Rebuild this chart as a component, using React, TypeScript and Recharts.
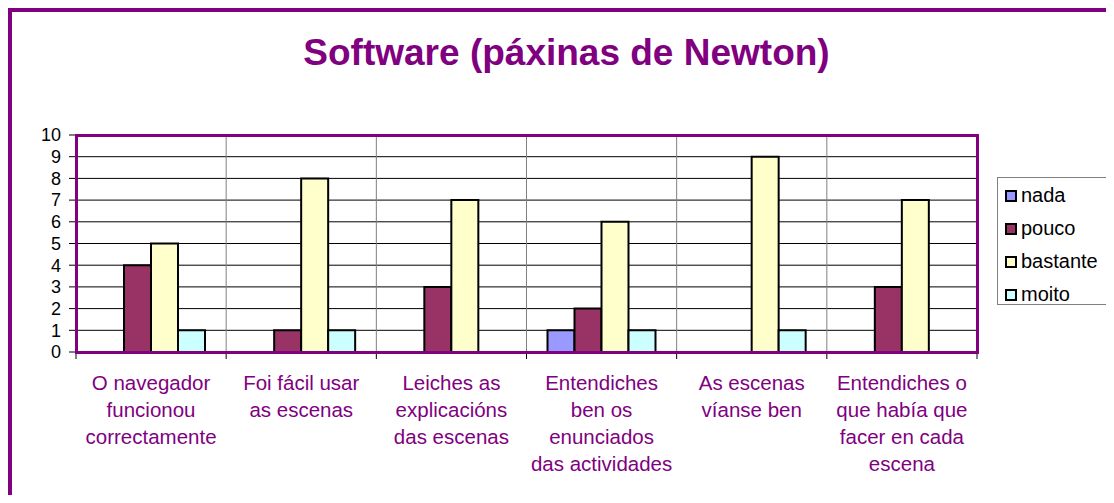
import React from 'react';
import { BarChart, Bar, XAxis, YAxis, CartesianGrid } from 'recharts';

const CATEGORIES = [
    'O navegador\nfuncionou\ncorrectamente',
    'Foi fácil usar\nas escenas',
    'Leiches as\nexplicacións\ndas escenas',
    'Entendiches\nben os\nenunciados\ndas actividades',
    'As escenas\nvíanse ben',
    'Entendiches o\nque había que\nfacer en cada\nescena',
];

const NADA = [0, 0, 0, 1, 0, 0];
const POUCO = [4, 1, 3, 2, 0, 3];
const BASTANTE = [5, 8, 7, 6, 9, 7];
const MOITO = [1, 1, 0, 1, 1, 0];

const Y_TICKS = [0, 1, 2, 3, 4, 5, 6, 7, 8, 9, 10];

const SERIES = [
    { key: 'nada', color: '#9999FF' },
    { key: 'pouco', color: '#993366' },
    { key: 'bastante', color: '#FFFFCC' },
    { key: 'moito', color: '#CCFFFF' },
];

const data = CATEGORIES.map((name, i) => ({
    name,
    nada: NADA[i],
    pouco: POUCO[i],
    bastante: BASTANTE[i],
    moito: MOITO[i],
}));

const W = 1114;
const H = 503;
const PURPLE = '#800080';
const FONT = '"Liberation Sans", Arial, Helvetica, sans-serif';
const MARGIN = { top: 135, right: 137, bottom: 0, left: 16 };
const Y_W = 60;
const X_H = 151;

const PLOT_LEFT = MARGIN.left + Y_W;
const PLOT_TOP = MARGIN.top;
const PLOT_W = W - PLOT_LEFT - MARGIN.right;
const PLOT_H = H - PLOT_TOP - MARGIN.bottom - X_H;

const CategoryTick = (props: any) => {
    const { x, y, payload, index } = props;
    const half = PLOT_W / CATEGORIES.length / 2;
    const lines = String(payload.value).split('\n');
    return (
        <g>
            <line x1={x - half} x2={x - half} y1={y} y2={y + 7} stroke="#000" />
            {index === CATEGORIES.length - 1 && (
                <line x1={x + half} x2={x + half} y1={y} y2={y + 7} stroke="#000" />
            )}
            <text textAnchor="middle" fill={PURPLE} fontSize={20.5} fontFamily={FONT}>
                {lines.map((l, i) => (
                    <tspan key={i} x={x} y={y + 38 + i * 27}>{l}</tspan>
                ))}
            </text>
        </g>
    );
};

const LegendBox = () => (
    <div style={{
        position: 'absolute', left: 997, top: 177,
        border: '1px solid #808080', width: 113, height: 128, boxSizing: 'border-box',
        padding: '1px 0 0 7px', background: '#fff', fontFamily: FONT,
    }}>
        {SERIES.map(s => (
            <div key={s.key} style={{ height: 33, display: 'flex', alignItems: 'center' }}>
                <span style={{
                    display: 'inline-block', width: 12, height: 12, boxSizing: 'border-box',
                    border: '2px solid #000', background: s.color,
                }} />
                <span style={{ marginLeft: 4, fontSize: 20, color: '#000' }}>{s.key}</span>
            </div>
        ))}
    </div>
);

export default function App() {
    return (
        <div style={{ position: 'relative', margin: -8, width: W, height: H, overflow: 'hidden', background: '#fff' }}>
            {/* outer chart frame, runs off the right and bottom edges */}
            <div style={{
                position: 'absolute', left: 8, top: 8, width: W + 100, height: H + 100,
                border: `4px solid ${PURPLE}`, boxSizing: 'border-box',
            }} />
            <div style={{
                position: 'absolute', left: 0, top: 34, width: 1133, textAlign: 'center',
                fontFamily: FONT, fontWeight: 'bold', fontSize: 37, lineHeight: '37px', color: PURPLE,
            }}>
                Software (páxinas de Newton)
            </div>
            <div style={{ position: 'absolute', left: 0, top: 0 }}>
                <BarChart width={W} height={H} data={data} margin={MARGIN} barCategoryGap={21} barGap={0}>
                    <CartesianGrid
                        stroke="#000"
                        vertical={false}
                    />
                    <CartesianGrid
                        stroke="#808080"
                        horizontal={false}
                        verticalCoordinatesGenerator={({ offset }: any) =>
                            CATEGORIES.map((_, i) => offset.left + (i * offset.width) / CATEGORIES.length).slice(1)
                        }
                    />
                    <XAxis
                        dataKey="name"
                        height={X_H}
                        interval={0}
                        axisLine={false}
                        tickLine={false}
                        tickSize={0}
                        tickMargin={0}
                        tick={<CategoryTick />}
                    />
                    <YAxis
                        width={Y_W}
                        domain={[0, 10]}
                        ticks={Y_TICKS}
                        interval={0}
                        axisLine={false}
                        tickSize={7}
                        tickMargin={8}
                        tickLine={{ stroke: '#000' }}
                        tick={{ fill: '#000', fontSize: 18, fontFamily: FONT }}
                    />
                    {SERIES.map(s => (
                        <Bar key={s.key} dataKey={s.key} fill={s.color} stroke="#000" strokeWidth={2} isAnimationActive={false} />
                    ))}
                </BarChart>
            </div>
            {/* plot area frame */}
            <div style={{
                position: 'absolute', left: PLOT_LEFT - 1.5, top: PLOT_TOP - 1.5,
                width: PLOT_W + 3, height: PLOT_H + 3, boxSizing: 'border-box',
                border: `3px solid ${PURPLE}`, pointerEvents: 'none',
            }} />
            <LegendBox />
        </div>
    );
}
